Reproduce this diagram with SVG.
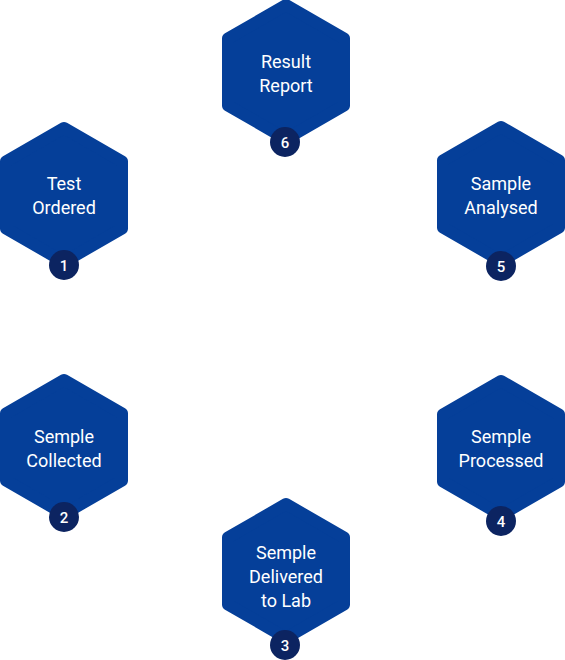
<svg xmlns="http://www.w3.org/2000/svg" xmlns:xlink="http://www.w3.org/1999/xlink" width="565" height="660" viewBox="0 0 565 660">
<style>
.hex{fill:#053f99;stroke:#053f99;stroke-width:12;stroke-linejoin:round}
.lbl{font-family:Roboto,"Liberation Sans",sans-serif;font-size:18px;fill:#ffffff;text-anchor:middle}
.badge{fill:#0c2461}
.num{font-family:Roboto,"Liberation Sans",sans-serif;font-size:15px;font-weight:500;fill:#ffffff;text-anchor:middle}
</style>
<defs>
<polygon id="hexshape" points="0,-67 58,-33.5 58,33.5 0,67 -58,33.5 -58,-33.5"/>
</defs>
<rect width="565" height="660" fill="#ffffff"/>
<g id="connectors"/>
<g id="node1">
<use xlink:href="#hexshape" href="#hexshape" class="hex" transform="translate(64,195)"/>
<text class="lbl" x="64" y="190">Test</text>
<text class="lbl" x="64" y="214">Ordered</text>
<circle class="badge" cx="64" cy="265" r="15"/>
<text class="num" x="64" y="270.5">1</text>
</g>
<g id="node2">
<use xlink:href="#hexshape" href="#hexshape" class="hex" transform="translate(64,447)"/>
<text class="lbl" x="64" y="443">Semple</text>
<text class="lbl" x="64" y="467">Collected</text>
<circle class="badge" cx="64" cy="517" r="15"/>
<text class="num" x="64" y="522.5">2</text>
</g>
<g id="node3">
<use xlink:href="#hexshape" href="#hexshape" class="hex" transform="translate(286,571)"/>
<text class="lbl" x="286" y="559">Semple</text>
<text class="lbl" x="286" y="583">Delivered</text>
<text class="lbl" x="286" y="607">to Lab</text>
<circle class="badge" cx="285" cy="645" r="15"/>
<text class="num" x="285" y="650.5">3</text>
</g>
<g id="node4">
<use xlink:href="#hexshape" href="#hexshape" class="hex" transform="translate(501,448)"/>
<text class="lbl" x="501" y="443">Semple</text>
<text class="lbl" x="501" y="467">Processed</text>
<circle class="badge" cx="501" cy="521" r="15"/>
<text class="num" x="501" y="526.5">4</text>
</g>
<g id="node5">
<use xlink:href="#hexshape" href="#hexshape" class="hex" transform="translate(501,194)"/>
<text class="lbl" x="501" y="190">Sample</text>
<text class="lbl" x="501" y="214">Analysed</text>
<circle class="badge" cx="501" cy="266" r="15"/>
<text class="num" x="501" y="271.5">5</text>
</g>
<g id="node6">
<use xlink:href="#hexshape" href="#hexshape" class="hex" transform="translate(286,72)"/>
<text class="lbl" x="286" y="67.5">Result</text>
<text class="lbl" x="286" y="91.5">Report</text>
<circle class="badge" cx="285" cy="142" r="15"/>
<text class="num" x="285" y="147.5">6</text>
</g>
</svg>
